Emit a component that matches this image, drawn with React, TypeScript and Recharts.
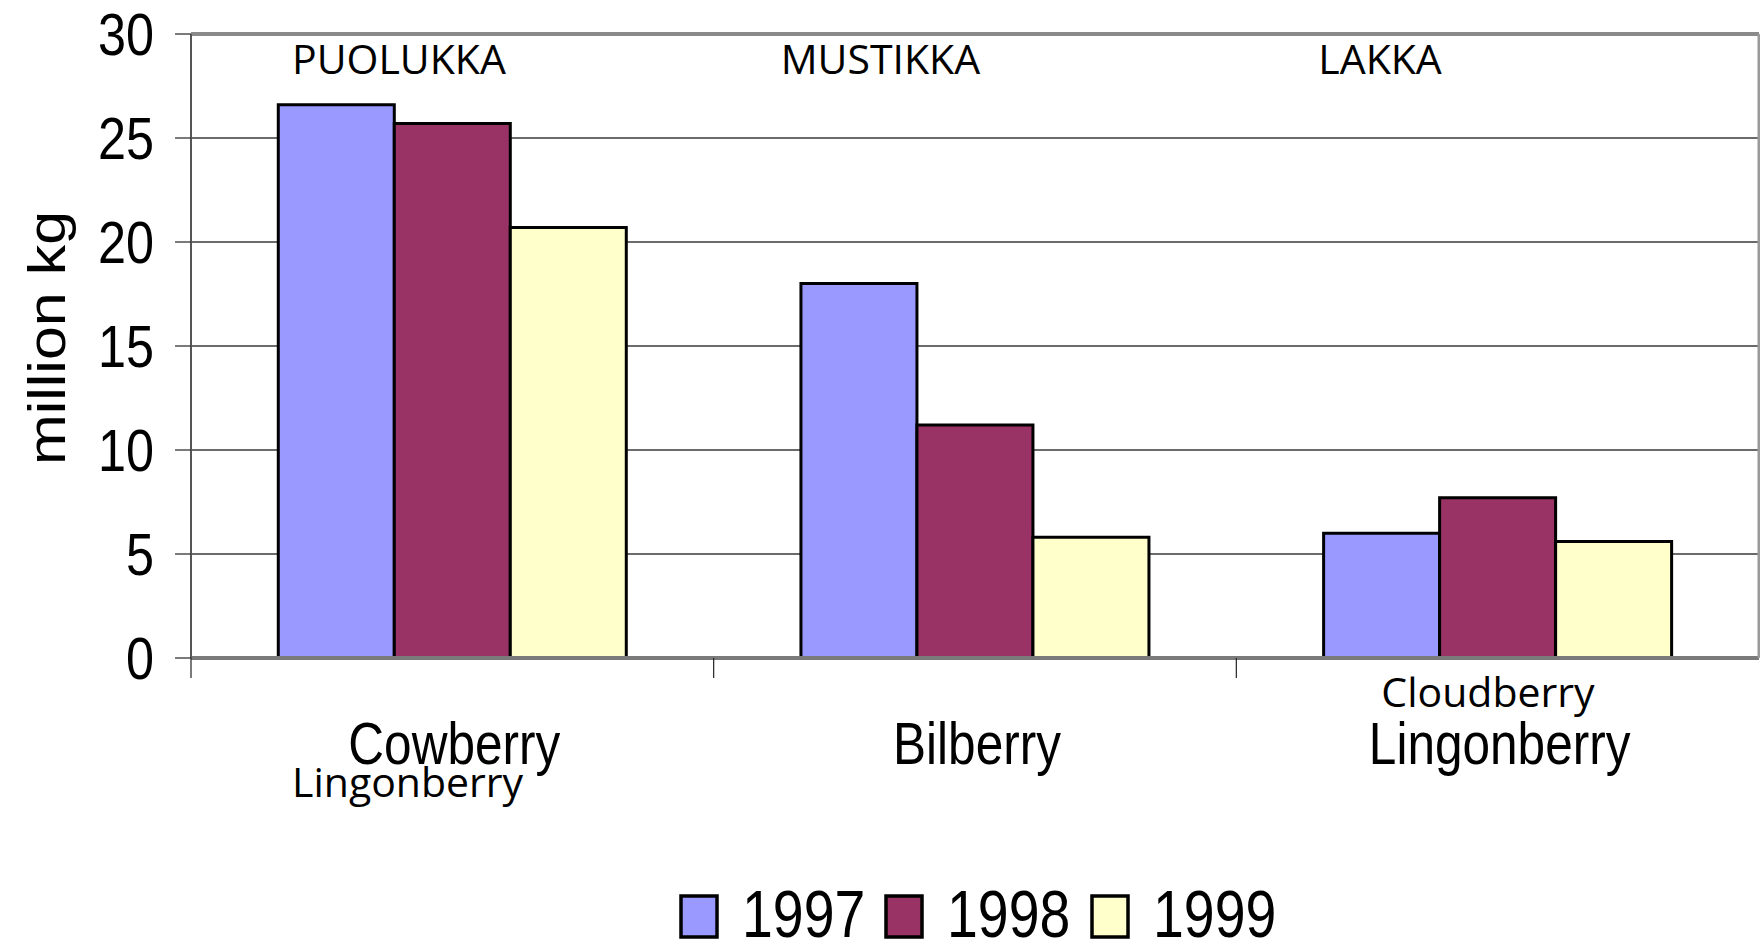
import React from 'react';
import { BarChart, Bar, XAxis, YAxis, CartesianGrid, ReferenceLine } from 'recharts';

// ---- data ----
const categories = ['Cowberry', 'Bilberry', 'Lingonberry'];
const subLabels = ['Lingonberry', '', 'Cloudberry'];
const finnishNames = ['PUOLUKKA', 'MUSTIKKA', 'LAKKA'];
const seriesNames = ['1997', '1998', '1999'];
const values1997 = [26.6, 18.0, 6.0];
const values1998 = [25.7, 11.2, 7.7];
const values1999 = [20.7, 5.8, 5.6];
const yTicks = [0, 5, 10, 15, 20, 25, 30];
const yLabel = 'million kg';

// ---- styles / layout ----
const colors = ['#9999FF', '#993366', '#FFFFCC'];
const W = 1760;
const H = 944;
const PLOT_LEFT = 191;
const PLOT_TOP = 34;
const PLOT_BOTTOM = 658;
const PLOT_RIGHT = 1759;
const SQUISH = 0.84;
const ARIAL = "'Liberation Sans', Arial, sans-serif";
const OPEN = "'Open Sans', 'Noto Sans', sans-serif";
const finnishDx = [101, 67, 82];
const subDx = [101, 0, 145];
const subBaseline = [797, 0, 707];
const legendX = [681, 886, 1092];

const data = categories.map((name, i) => ({
  name,
  v1997: values1997[i],
  v1998: values1998[i],
  v1999: values1999[i],
}));
const seriesKeys = ['v1997', 'v1998', 'v1999'];

function SqText(props: any) {
  const { x, y, fs, anchor = 'start', children, sx = SQUISH, family = ARIAL } = props;
  return (
    <text
      x={0}
      y={0}
      transform={`translate(${x},${y}) scale(${sx},1)`}
      fontSize={fs}
      fontFamily={family}
      textAnchor={anchor}
      fill="#000"
    >
      {children}
    </text>
  );
}

function YTick(props: any) {
  const { y, payload } = props;
  return (
    <SqText x={PLOT_LEFT - 37} y={y + 21} fs={60} anchor="end">
      {String(payload.value)}
    </SqText>
  );
}

function CatTick(props: any) {
  const { x, payload, index } = props;
  const catW = (PLOT_RIGHT - PLOT_LEFT) / categories.length;
  const left = x - catW / 2;
  const sub = subLabels[index];
  return (
    <g>
      <line x1={left} x2={left} y1={PLOT_BOTTOM} y2={PLOT_BOTTOM + 20} stroke="#222" strokeWidth={1.2} />
      <SqText x={x + 2} y={764} fs={59} anchor="middle">
        {payload.value}
      </SqText>
      {sub ? (
        <text x={left + subDx[index]} y={subBaseline[index]} fontSize={41} fontFamily={OPEN} fill="#000">
          {sub}
        </text>
      ) : null}
      <text x={left + finnishDx[index]} y={PLOT_TOP + 40} fontSize={41} fontFamily={OPEN} fill="#000">
        {finnishNames[index]}
      </text>
    </g>
  );
}

export default function App() {
  return (
    <div
      style={{
        position: 'absolute',
        left: 0,
        top: 0,
        width: W,
        height: H,
        overflow: 'hidden',
        background: '#fff',
      }}
    >
      <BarChart
        width={W}
        height={H}
        data={data}
        margin={{ top: PLOT_TOP, right: 0, left: 0, bottom: 0 }}
        barCategoryGap="16.7%"
        barGap={0}
      >
        <CartesianGrid vertical={false} stroke="#3a3a3a" strokeWidth={1.3} />
        <XAxis
          dataKey="name"
          height={H - PLOT_BOTTOM - PLOT_TOP + PLOT_TOP}
          interval={0}
          tickLine={false}
          axisLine={{ stroke: '#7a7a7a', strokeWidth: 4 }}
          tick={<CatTick />}
        />
        <YAxis
          width={PLOT_LEFT}
          domain={[0, 30]}
          ticks={yTicks}
          interval={0}
          tickSize={16}
          tickLine={{ stroke: '#333', strokeWidth: 1.3 }}
          axisLine={{ stroke: '#555', strokeWidth: 2 }}
          tick={<YTick />}
        />
        <YAxis
          yAxisId="right"
          orientation="right"
          width={1}
          domain={[0, 30]}
          tick={false}
          tickLine={false}
          axisLine={{ stroke: '#9a9a9a', strokeWidth: 3 }}
        />
        <ReferenceLine y={30} stroke="#8a8a8a" strokeWidth={4} />
        {seriesKeys.map((k, i) => (
          <Bar
            key={k}
            dataKey={k}
            name={seriesNames[i]}
            fill={colors[i]}
            stroke="#000"
            strokeWidth={3}
            isAnimationActive={false}
          />
        ))}
      </BarChart>
      <svg
        width={W}
        height={H}
        style={{ position: 'absolute', left: 0, top: 0, pointerEvents: 'none' }}
      >
        <text
          x={0}
          y={0}
          transform={`translate(47,338) scale(${SQUISH},1) rotate(-90)`}
          fontSize={61}
          fontFamily={ARIAL}
          textAnchor="middle"
          dominantBaseline="central"
          fill="#000"
        >
          {yLabel}
        </text>
        {seriesNames.map((s, i) => (
          <g key={s}>
            <rect x={legendX[i]} y={896} width={36} height={41} fill={colors[i]} stroke="#000" strokeWidth={3.5} />
            <SqText x={legendX[i] + 61} y={937} fs={66}>
              {s}
            </SqText>
          </g>
        ))}
      </svg>
    </div>
  );
}
